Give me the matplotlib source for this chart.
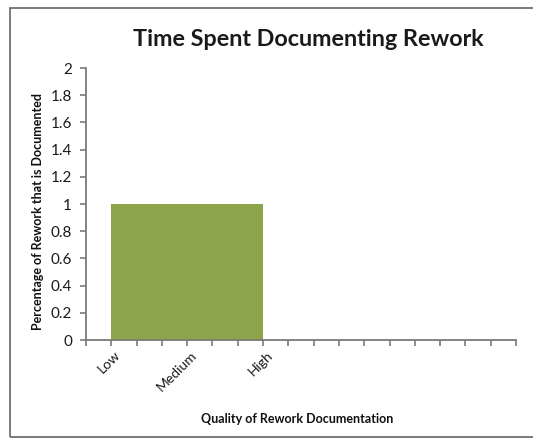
import matplotlib
matplotlib.use("Agg")
import matplotlib.pyplot as plt
from matplotlib.patches import Rectangle

plt.rcParams['font.family'] = ['Lato', 'DejaVu Sans']

# Data
categories = ["Low", "Medium", "High"]
values = [1, 1, 1]
n_slots = 17          # number of category slots on the horizontal axis
slot_step = 3         # spacing between labelled categories (in slots)
y_ticks = [0, 0.2, 0.4, 0.6, 0.8, 1, 1.2, 1.4, 1.6, 1.8, 2]
y_tick_labels = ["0", "0.2", "0.4", "0.6", "0.8", "1", "1.2", "1.4", "1.6", "1.8", "2"]

W, H = 533, 441
fig = plt.figure(figsize=(W / 100, H / 100), dpi=100)
fig.patch.set_facecolor("white")

# Chart-area frame
frame = Rectangle((10 / W, 1 - 437 / H), 1.2, (437 - 8) / H, transform=fig.transFigure,
                  fill=False, edgecolor="#6f6f6f", linewidth=1.3, clip_on=False)
fig.add_artist(frame)

ax = fig.add_axes([86 / W, 1 - 340 / H, (516 - 86) / W, (340 - 68) / H])

positions = [1 + slot_step * i for i in range(len(categories))]
ax.fill_between(positions, 0, values, color="#8ca54a", linewidth=0)

ax.set_xlim(0, n_slots)
ax.set_ylim(0, 2)
ax.set_yticks(y_ticks)
ax.set_yticklabels(y_tick_labels, fontsize=11, color="#1a1a1a")

ax.set_xticks(range(0, n_slots + 1))
ax.set_xticklabels([""] * (n_slots + 1))
for p, c in zip(positions, categories):
    ax.text(p + 0.12, -0.065, c, rotation=45, ha="right", va="top",
            rotation_mode="anchor", fontsize=10, color="#1a1a1a",
            transform=ax.transData)

for side in ("top", "right"):
    ax.spines[side].set_visible(False)
for side in ("left", "bottom"):
    ax.spines[side].set_color("#7a7a7a")
    ax.spines[side].set_linewidth(1.3)
ax.tick_params(axis="both", direction="out", length=4, width=1.2, color="#7a7a7a")
ax.tick_params(axis="y", pad=6)

fig.text(308 / W, 1 - 40 / H, "Time Spent Documenting Rework", ha="center", va="center",
         fontsize=16.8, fontweight="bold", color="#1a1a1a")
fig.text(38 / W, 1 - 212 / H, "Percentage of Rework that is Documented", ha="center",
         va="center", rotation=90, fontsize=9, fontweight="bold", color="#111111")
fig.text(297 / W, 1 - 419 / H, "Quality of Rework Documentation", ha="center", va="center",
         fontsize=9, fontweight="bold", color="#111111")

fig.savefig("out.png", dpi=100)
